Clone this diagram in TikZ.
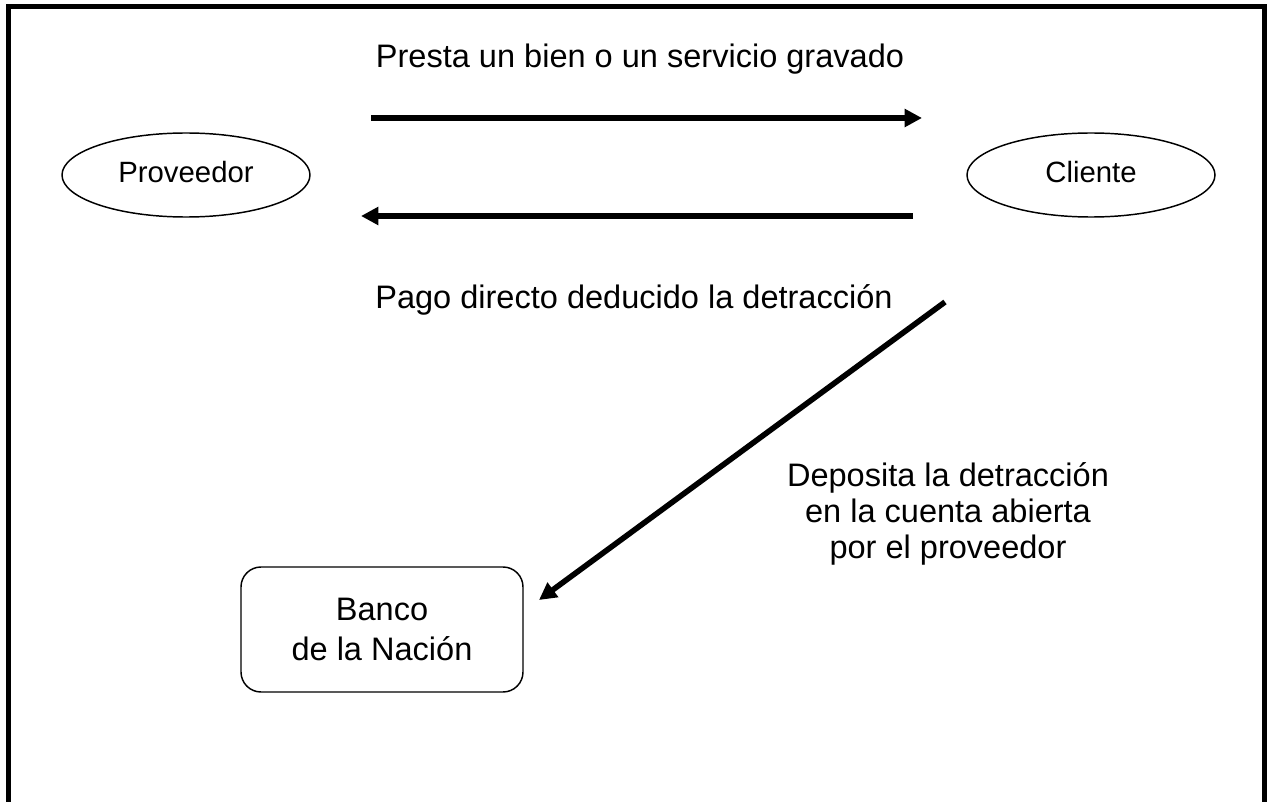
\documentclass[tikz,border=0pt]{standalone}
\usepackage{fontspec}
\setmainfont{Liberation Sans}
\usetikzlibrary{arrows.meta,shapes.geometric}
\begin{document}
\begin{tikzpicture}[x=0.75pt,y=-0.75pt,
  lbl/.style={font=\fontsize{24.4pt}{27pt}\selectfont, inner sep=0pt, anchor=base},
  actor/.style={ellipse, draw, line width=1.1pt, minimum width=186pt, minimum height=63pt, inner sep=0pt,
    font=\fontsize{22pt}{24pt}\selectfont, text height=12pt, text depth=0pt},
  bank/.style={draw, line width=1.1pt, rounded corners=15pt, minimum width=211.5pt, minimum height=93.75pt,
    align=center, inner sep=0pt, font=\fontsize{24.4pt}{29.5pt}\selectfont},
  flow/.style={line width=4.2pt, -{Triangle[length=13pt,width=13pt]}}]
\useasboundingbox (0,0) rectangle (1272,802);
\draw[line width=3.75pt] (8.5,900) -- (8.5,6.5) -- (1264.5,6.5) -- (1264.5,900);
\node[actor] (prov) at (186,175) {Proveedor};
\node[actor] (cli) at (1091,175) {Cliente};
\node[bank] (banco) at (382,629.5) {Banco\\de la Nación};
\node[lbl] (t1) at (640,67.5) {Presta un bien o un servicio gravado};
\node[lbl] (t2) at (634,308.5) {Pago directo deducido la detracción};
\node[lbl, align=center, anchor=center] (t3) at (948,514) {Deposita la detracción\\en la cuenta abierta\\por el proveedor};
\coordinate (a1s) at (371,118);
\coordinate (a1e) at (922,118);
\coordinate (a2s) at (913,216);
\coordinate (a2e) at (361,216);
\coordinate (a3s) at (945,302);
\coordinate (a3e) at (539,600);
\draw[flow] (a1s) -- (a1e);
\draw[flow] (a2s) -- (a2e);
\draw[flow] (a3s) -- (a3e);
\end{tikzpicture}
\end{document}
